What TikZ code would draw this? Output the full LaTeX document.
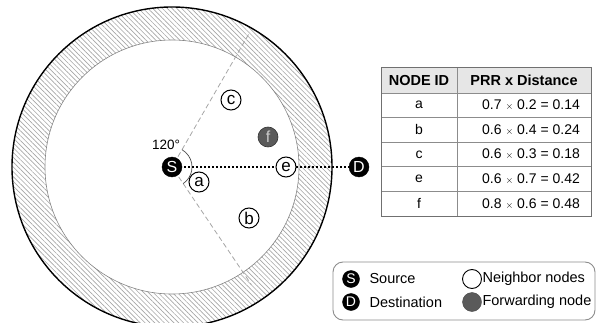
\documentclass[tikz,border=0pt]{standalone}
\usepackage{fontspec}
\setmainfont{Liberation Sans}
\usetikzlibrary{patterns.meta,calc}
\definecolor{hatch}{HTML}{A6A6A6}
\definecolor{fwd}{HTML}{5A5A5A}
\definecolor{rule}{HTML}{8C8C8C}
\definecolor{headfill}{HTML}{E6E6E6}
\begin{document}
\begin{tikzpicture}[x=1pt,y=1pt,
  srcnode/.style={circle,fill=black,draw=black,inner sep=0pt,minimum size=20pt,
    text=white,font=\fontsize{16}{16}\selectfont},
  nbnode/.style={circle,fill=white,draw=black,line width=1pt,inner sep=0pt,minimum size=20pt,
    font=\fontsize{17}{17}\selectfont},
  fwnode/.style={circle,fill=fwd,draw=black!80,line width=0.6pt,inner sep=0pt,minimum size=20pt,
    text=white!80!black,font=\fontsize{16}{16}\selectfont},
  sector/.style={draw=hatch,dash pattern=on 5pt off 3pt,line width=0.8pt},
  cell/.style={font=\fontsize{14}{16}\selectfont},
  headcell/.style={font=\bfseries\fontsize{14.5}{16}\selectfont},
  legtext/.style={anchor=west,font=\fontsize{14.5}{16}\selectfont}]
\useasboundingbox (0,0) rectangle (597,322);

% transmission range: hatched ring between the two circles
\coordinate (S0) at (172,155);
\path[pattern={Lines[angle=135,distance=3.4pt,line width=0.65pt]},pattern color=hatch,even odd rule]
  (S0) circle[radius=160pt] (S0) circle[radius=127pt];
\draw[line width=1.4pt] (S0) circle[radius=160pt];
\draw[hatch!80!black,line width=0.6pt] (S0) circle[radius=127pt];

% 120 degree forwarding sector
\coordinate (cu0) at ($(S0)+(60:12pt)$);
\coordinate (cu1) at ($(S0)+(60:156pt)$);
\coordinate (cl0) at ($(S0)+(-56:12pt)$);
\coordinate (cl1) at ($(S0)+(-56:142pt)$);
\draw[sector] (cu0) -- (cu1);
\draw[sector] (cl0) -- (cl1);
\draw[black!70,line width=0.7pt] ($(S0)+(-56:20pt)$) arc[start angle=-56,end angle=60,radius=20pt];
\node[font=\fontsize{13.5}{13.5}\selectfont] (ang) at (166,177) {120°};

% nodes
\node[srcnode] (D) at (359,155) {D};
\draw[line width=1.6pt,dash pattern=on 1.6pt off 2.4pt] (S0) -- (D);
\node[srcnode] (S) at (S0) {S};
\node[nbnode] (e) at (286,155) {e};
\node[nbnode] (a) at (199,140) {a};
\node[nbnode] (b) at (249,104) {b};
\node[nbnode] (c) at (231,222) {c};
\node[fwnode] (f) at (268,185) {f};

% PRR x distance table
\fill[headfill] (381,229) rectangle (591,254);
\foreach \yy in {229,204.4,179.8,155.2,130.6}
  \draw[rule,line width=0.7pt] (381,\yy) -- (591,\yy);
\draw[rule,line width=0.7pt] (457,106) -- (457,254);
\draw[rule!80!black,line width=1pt] (381,106) rectangle (591,254);
\node[headcell] (h1) at (419,241.5) {NODE ID};
\node[headcell] (h2) at (524,241.5) {PRR x Distance};
\node[cell] (ra) at (419,216.7) {a};
\node[cell] (rb) at (419,192.1) {b};
\node[cell] (rc) at (419,167.5) {c};
\node[cell] (re) at (419,142.9) {e};
\node[cell] (rf) at (419,118.3) {f};
\node[cell] (va) at (531,216.7) {0.7 {\fontsize{10}{10}\selectfont$\times$} 0.2 = 0.14};
\node[cell] (vb) at (531,192.1) {0.6 {\fontsize{10}{10}\selectfont$\times$} 0.4 = 0.24};
\node[cell] (vc) at (531,167.5) {0.6 {\fontsize{10}{10}\selectfont$\times$} 0.3 = 0.18};
\node[cell] (ve) at (531,142.9) {0.6 {\fontsize{10}{10}\selectfont$\times$} 0.7 = 0.42};
\node[cell] (vf) at (531,118.3) {0.8 {\fontsize{10}{10}\selectfont$\times$} 0.6 = 0.48};

% legend
\draw[rule,line width=0.9pt,rounded corners=10pt] (333,2) rectangle (595,60);
\node[srcnode,minimum size=17pt,font=\fontsize{14}{14}\selectfont] (lS) at (351,43) {S};
\node[srcnode,minimum size=17pt,font=\fontsize{14}{14}\selectfont] (lD) at (351,20) {D};
\node[legtext] (tS) at (366,43) {Source};
\node[legtext] (tD) at (366,20) {Destination};
\node[circle,draw=black,line width=0.9pt,minimum size=19pt,inner sep=0pt] (lN) at (472,43) {};
\node[circle,fill=fwd,draw=fwd!80!black,minimum size=19pt,inner sep=0pt] (lF) at (472,20) {};
\node[legtext] (tN) at (479,43) {Neighbor nodes};
\node[legtext] (tF) at (479,20) {Forwarding node};
\end{tikzpicture}
\end{document}
